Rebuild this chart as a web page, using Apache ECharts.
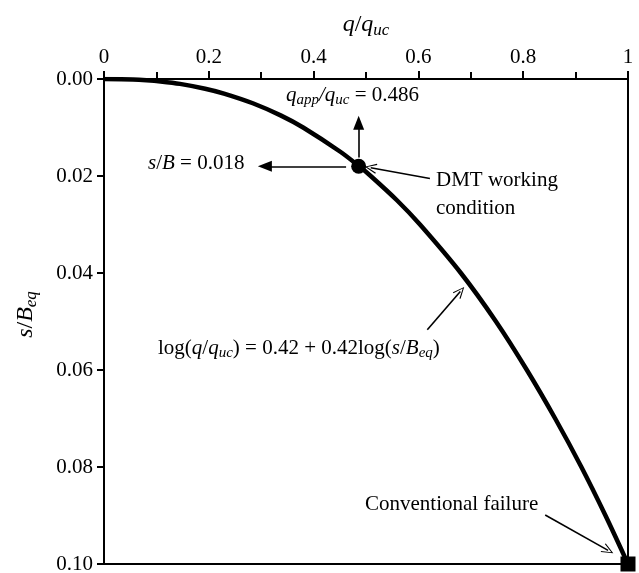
<!DOCTYPE html>
<html>
<head>
<meta charset="utf-8">
<script src="https://cdn.jsdelivr.net/npm/echarts@6/dist/echarts.min.js"></script>
<style>
html,body{margin:0;padding:0;background:#fff;}
#main{width:639px;height:573px;}
</style>
</head>
<body>
<div id="main"></div>
<script>
// Data
var settlement = [0, 0.0001, 0.00025, 0.0005, 0.001, 0.002, 0.003, 0.005, 0.0075, 0.01, 0.015, 0.018, 0.02, 0.025, 0.03, 0.04, 0.05, 0.06, 0.07, 0.08, 0.09, 0.1];
var loadRatio  = [0, 0.055, 0.081, 0.108, 0.145, 0.193, 0.229, 0.284, 0.337, 0.380, 0.451, 0.487, 0.509, 0.559, 0.603, 0.681, 0.748, 0.807, 0.861, 0.911, 0.957, 1.0];
var dmtPoint = [0.486, 0.018];
var failurePoint = [1.0, 0.1];
var xTicks = [0, 0.2, 0.4, 0.6, 0.8, 1];
var yTicks = [0, 0.02, 0.04, 0.06, 0.08, 0.1];

var FONT = 'Liberation Serif';
var FS = 21;
var curve = settlement.map(function (s, i) { return [loadRatio[i], s]; });

var chart = echarts.init(document.getElementById('main'), null, {renderer: 'canvas'});

var openHead = 'path://M0,12 L5,0 L10,12 L9,12.6 L5,2.4 L1,12.6 Z';

var richIt = {
  i: {fontFamily: FONT, fontStyle: 'italic', fontSize: FS, fill: '#000', color: '#000'},
  n: {fontFamily: FONT, fontSize: FS, fill: '#000', color: '#000'},
  s: {fontFamily: FONT, fontStyle: 'italic', fontSize: 15, fill: '#000', color: '#000', padding: [10, 0, 0, 0]}
};
var richName = {
  i: {fontFamily: FONT, fontStyle: 'italic', fontSize: 24, color: '#000'},
  n: {fontFamily: FONT, fontSize: 24, color: '#000'},
  s: {fontFamily: FONT, fontStyle: 'italic', fontSize: 17, color: '#000', padding: [11, 0, 0, 0]}
};

var option = {
  backgroundColor: '#fff',
  animation: false,
  grid: {left: 104, right: 11, top: 79, bottom: 9, show: true, borderColor: '#000', borderWidth: 2,
         backgroundColor: 'transparent', containLabel: false, outerBoundsMode: 'none'},
  xAxis: {
    type: 'value', position: 'top', min: 0, max: 1, interval: 0.2,
    name: '{i|q}{n|/}{i|q}{s|uc}', nameLocation: 'middle', nameGap: 40,
    nameTextStyle: {rich: richName},
    axisLine: {lineStyle: {color: '#000', width: 2}},
    axisTick: {show: true, inside: false, length: 8, lineStyle: {color: '#000', width: 2}},
    minorTick: {show: true, splitNumber: 2, length: 7, lineStyle: {color: '#000', width: 2}},
    splitLine: {show: false},
    axisLabel: {fontFamily: FONT, fontSize: FS, color: '#000', margin: 11,
      formatter: function (v) { return (v === 0 || v === 1) ? String(v) : v.toFixed(1); }}
  },
  yAxis: {
    type: 'value', inverse: true, min: 0, max: 0.1, interval: 0.02,
    name: '{i|s}{n|/}{i|B}{s|eq}', nameLocation: 'middle', nameGap: 64, nameRotate: 90,
    nameTextStyle: {rich: richName, padding: [0, 0, 0, 14]},
    axisLine: {lineStyle: {color: '#000', width: 2}},
    axisTick: {show: true, inside: false, length: 7, lineStyle: {color: '#000', width: 2}},
    splitLine: {show: false},
    axisLabel: {fontFamily: FONT, fontSize: FS, color: '#000', margin: 11,
      formatter: function (v) { return v.toFixed(2); }}
  },
  series: [
    {
      type: 'line', data: curve, smooth: 0.3, symbol: 'none',
      lineStyle: {color: '#000', width: 4.5}, z: 3
    },
    {
      type: 'scatter', data: [dmtPoint], symbol: 'circle', symbolSize: 15,
      itemStyle: {color: '#000', opacity: 1}, z: 5,
      markLine: {
        silent: true, animation: false, precision: 4,
        label: {show: false},
        lineStyle: {color: '#000', width: 1.6, type: 'solid', opacity: 1},
        data: [
          [{coord: [dmtPoint[0], 0.0162], symbol: 'none'}, {coord: [dmtPoint[0], 0.0090], symbol: 'triangle', symbolSize: [11, 14]}],
          [{coord: [0.462, dmtPoint[1]], symbol: 'none'}, {coord: [0.307, dmtPoint[1]], symbol: 'triangle', symbolSize: [11, 14]}],
          [{coord: [0.622, 0.0205], symbol: 'none'}, {coord: [0.509, 0.0183], symbol: openHead, symbolSize: [10, 12]}],
          [{coord: [0.617, 0.0517], symbol: 'none'}, {coord: [0.680, 0.0438], symbol: openHead, symbolSize: [10, 12]}],
          [{coord: [0.842, 0.0899], symbol: 'none'}, {coord: [0.962, 0.0972], symbol: openHead, symbolSize: [10, 12]}]
        ]
      }
    },
    {
      type: 'scatter', data: [failurePoint], symbol: 'rect', symbolSize: 15,
      itemStyle: {color: '#000', opacity: 1}, z: 6
    }
  ],
  graphic: [
    {type: 'text', left: 286, top: 85, style: {
      text: '{i|q}{s|app}{i|/q}{s|uc}{n| = 0.486}', rich: richIt}},
    {type: 'text', left: 148, top: 153, style: {
      text: '{i|s}{n|/}{i|B}{n| = 0.018}', rich: richIt}},
    {type: 'text', left: 436, top: 166, style: {
      text: 'DMT working\ncondition', align: 'center', fontFamily: FONT, fontSize: FS, lineHeight: 28, fill: '#000'
    }},
    {type: 'text', left: 158, top: 338, style: {
      text: '{n|log(}{i|q}{n|/}{i|q}{s|uc}{n|) = 0.42 + 0.42log(}{i|s}{n|/}{i|B}{s|eq}{n|)}', rich: richIt}},
    {type: 'text', left: 365, top: 494, style: {
      text: 'Conventional failure', fontFamily: FONT, fontSize: FS, fill: '#000'
    }}
  ]
};
chart.setOption(option);
</script>
</body>
</html>
